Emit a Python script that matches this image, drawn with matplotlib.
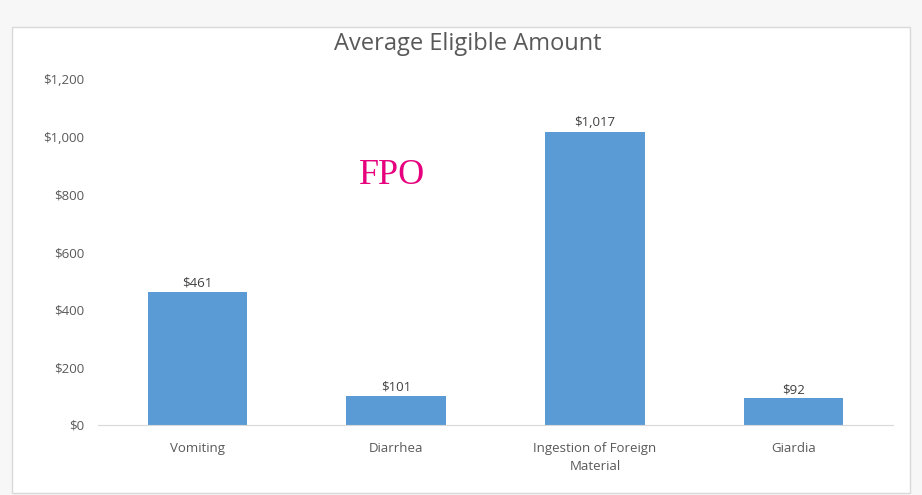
import matplotlib
matplotlib.use('Agg')
import matplotlib.pyplot as plt
from matplotlib.patches import Rectangle
import numpy as np

categories = ['Vomiting', 'Diarrhea', 'Ingestion of Foreign\nMaterial', 'Giardia']
amounts = [461, 101, 1017, 92]
yticks = [0, 200, 400, 600, 800, 1000, 1200]

plt.rcParams['font.family'] = ['Open Sans', 'DejaVu Sans']

fig = plt.figure(figsize=(9.22, 4.95), dpi=100, facecolor='#f7f7f7')

# chart area box (behind the axes)
box = Rectangle((12 / 922, 1 - 493 / 495), 898 / 922, 466 / 495,
                transform=fig.transFigure, facecolor='white',
                edgecolor='#d9d9d9', linewidth=1, zorder=-10)
fig.add_artist(box)

ax = fig.add_axes([98 / 922, 1 - 425 / 495, 795 / 922, 346 / 495])
ax.set_zorder(5)
ax.set_facecolor('none')

x = np.arange(len(categories))
bars = ax.bar(x, amounts, width=0.5, color='#5b9bd5')
for xi, v in zip(x, amounts):
    ax.text(xi, v + 8, '${:,}'.format(v), ha='center', va='bottom',
            fontsize=9.5, color='#404040')

ax.set_xlim(-0.5, 3.5)
ax.set_ylim(0, 1200)
ax.set_xticks(x)
ax.set_xticklabels(categories, fontsize=9.5, color='#595959', linespacing=1.5)
ax.set_yticks(yticks)
ax.set_yticklabels(['${:,}'.format(t) for t in yticks], fontsize=9.5, color='#595959')
ax.tick_params(length=0, pad=12)
ax.tick_params(axis='y', pad=10)
for s in ['top', 'right', 'left']:
    ax.spines[s].set_visible(False)
ax.spines['bottom'].set_color('#d9d9d9')

fig.text(468 / 922, 1 - 44 / 495, 'Average Eligible Amount', ha='center', va='center',
         fontsize=17, color='#595959', zorder=6)
fig.text(392 / 922, 1 - 175 / 495, 'FPO', ha='center', va='center',
         fontsize=26, color='#e6007e', family='Liberation Serif', zorder=6)

plt.savefig('out.png', dpi=100, facecolor=fig.get_facecolor())
